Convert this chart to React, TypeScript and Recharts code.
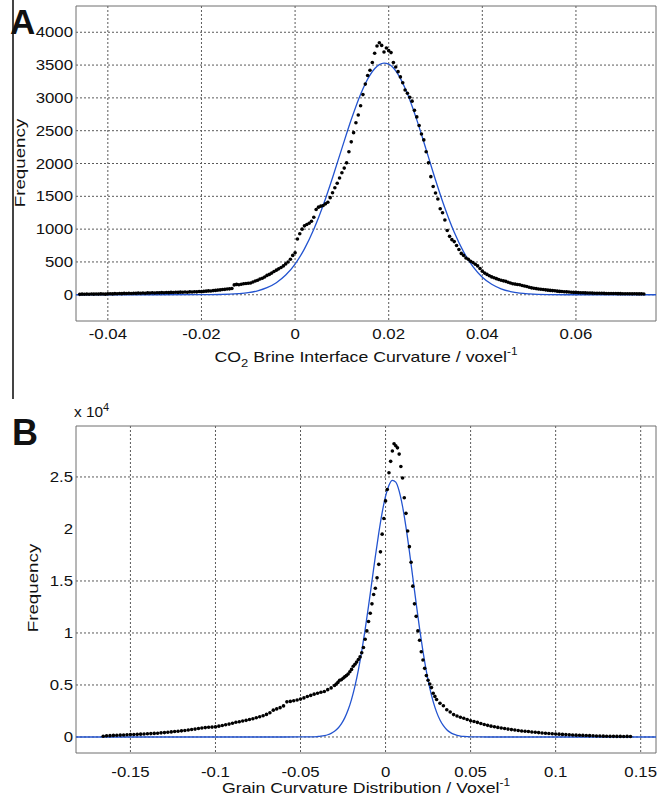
import React from "react";
import { ComposedChart, Line, Scatter, XAxis, YAxis, CartesianGrid, ReferenceArea } from "recharts";

// ---------- Panel A: CO2 brine interface curvature ----------
const aX = [
  -0.046,-0.0455,-0.045,-0.0445,-0.044,-0.0435,-0.043,-0.0425,-0.042,-0.0415,
  -0.041,-0.0405,-0.04,-0.0395,-0.039,-0.0385,-0.038,-0.0375,-0.037,-0.0365,
  -0.036,-0.0355,-0.035,-0.0345,-0.034,-0.0335,-0.033,-0.0325,-0.032,-0.0315,
  -0.031,-0.0305,-0.03,-0.0295,-0.029,-0.0285,-0.028,-0.0275,-0.027,-0.0265,
  -0.026,-0.0255,-0.025,-0.0245,-0.024,-0.0235,-0.023,-0.0225,-0.022,-0.0215,
  -0.021,-0.0205,-0.02,-0.0195,-0.019,-0.0185,-0.018,-0.0175,-0.017,-0.0165,
  -0.016,-0.0155,-0.015,-0.0145,-0.014,-0.0135,-0.013,-0.0125,-0.012,-0.0115,
  -0.011,-0.0105,-0.01,-0.0095,-0.009,-0.0085,-0.008,-0.0075,-0.007,-0.0065,
  -0.006,-0.0055,-0.005,-0.0045,-0.004,-0.0035,-0.003,-0.0025,-0.002,-0.0015,
  -0.001,-0.0005,0,0.0005,0.001,0.0015,0.002,0.0025,0.003,0.0035,
  0.004,0.0045,0.005,0.0055,0.006,0.0065,0.007,0.0075,0.008,0.0085,
  0.009,0.0095,0.01,0.0105,0.011,0.0115,0.012,0.0125,0.013,0.0135,
  0.014,0.0145,0.015,0.0155,0.016,0.0165,0.017,0.0175,0.018,0.0185,
  0.019,0.0195,0.02,0.0205,0.021,0.0215,0.022,0.0225,0.023,0.0235,
  0.024,0.0245,0.025,0.0255,0.026,0.0265,0.027,0.0275,0.028,0.0285,
  0.029,0.0295,0.03,0.0305,0.031,0.0315,0.032,0.0325,0.033,0.0335,
  0.034,0.0345,0.035,0.0355,0.036,0.0365,0.037,0.0375,0.038,0.0385,
  0.039,0.0395,0.04,0.0405,0.041,0.0415,0.042,0.0425,0.043,0.0435,
  0.044,0.0445,0.045,0.0455,0.046,0.0465,0.047,0.0475,0.048,0.0485,
  0.049,0.0495,0.05,0.0505,0.051,0.0515,0.052,0.0525,0.053,0.0535,
  0.054,0.0545,0.055,0.0555,0.056,0.0565,0.057,0.0575,0.058,0.0585,
  0.059,0.0595,0.06,0.0605,0.061,0.0615,0.062,0.0625,0.063,0.0635,
  0.064,0.0645,0.065,0.0655,0.066,0.0665,0.067,0.0675,0.068,0.0685,
  0.069,0.0695,0.07,0.0705,0.071,0.0715,0.072,0.0725,0.073,0.0735,
  0.074,0.0745,
];
const aY = [
  6,9,7,10,8,11,9,12,10,13,
  11,9,14,16,13,17,15,19,17,21,
  18,22,20,24,21,25,23,27,24,28,
  26,30,27,31,29,33,30,34,32,36,
  34,38,36,40,37,41,39,44,42,46,
  44,49,47,52,55,59,58,63,66,71,
  74,79,82,87,90,95,150,158,152,160,
  168,172,176,180,195,210,222,240,252,270,
  295,310,330,355,375,395,415,440,470,500,
  540,600,640,850,930,1000,1050,1070,1090,1120,
  1180,1300,1335,1350,1360,1385,1410,1480,1555,1630,
  1700,1780,1860,1930,2010,2180,2330,2470,2620,2740,
  2880,3050,3210,3340,3420,3540,3680,3790,3840,3800,
  3700,3760,3720,3690,3540,3470,3400,3320,3230,3120,
  3070,3010,2950,2810,2710,2580,2450,2360,2180,2010,
  1800,1650,1550,1460,1310,1250,1140,980,890,840,
  810,750,690,630,600,560,540,510,492,465,
  440,400,360,330,310,290,272,258,245,232,
  220,212,204,190,178,168,162,156,152,142,
  134,126,115,105,100,94,88,84,79,75,
  70,66,63,60,55,51,49,46,44,41,
  38,36,34,33,31,30,28,27,26,25,
  24,23,22,22,21,20,20,19,18,18,
  17,17,16,15,16,15,14,15,14,13,
  14,12,
];
const aFitX = [-0.0468,-0.03,-0.02,-0.016,-0.014,-0.012,-0.01,-0.008,-0.006,-0.004,-0.002,0,0.002,0.004,0.006,0.008,0.01,0.012,0.014,0.016,0.018,0.019,0.02,0.022,0.024,0.026,0.028,0.03,0.032,0.034,0.036,0.038,0.04,0.042,0.044,0.046,0.048,0.05,0.054,0.06,0.0771];
const aFitY = [0,0,1,4,8,17,32,60,108,184,300,468,699,998,1364,1784,2231,2670,3057,3347,3506,3530,3513,3359,3063,2665,2211,1749,1321,951,653,428,267,159,91,49,25,13,3,0,0];
const aXTicks = [-0.04,-0.02,0,0.02,0.04,0.06];
const aYTicks = [0,500,1000,1500,2000,2500,3000,3500,4000];
const aXDomain = [-0.0468, 0.0771];
const aYDomain = [-400, 4400];

// ---------- Panel B: grain curvature ----------
const bX = [
  -0.166,-0.164,-0.162,-0.16,-0.158,-0.156,-0.154,-0.152,-0.15,-0.148,
  -0.146,-0.144,-0.142,-0.14,-0.138,-0.136,-0.134,-0.132,-0.13,-0.128,
  -0.126,-0.124,-0.122,-0.12,-0.118,-0.116,-0.114,-0.112,-0.11,-0.108,
  -0.106,-0.104,-0.102,-0.1,-0.098,-0.096,-0.094,-0.092,-0.09,-0.088,
  -0.086,-0.084,-0.082,-0.08,-0.078,-0.076,-0.074,-0.072,-0.07,-0.068,
  -0.066,-0.064,-0.062,-0.06,-0.058,-0.056,-0.054,-0.052,-0.05,-0.048,
  -0.046,-0.044,-0.042,-0.04,-0.038,-0.036,-0.034,-0.032,
  -0.03,-0.029,-0.028,-0.027,-0.026,-0.025,-0.024,-0.023,-0.022,-0.021,
  -0.02,-0.019,-0.018,-0.017,-0.016,-0.015,-0.014,-0.013,-0.012,-0.011,
  -0.01,-0.009,-0.008,-0.007,-0.006,-0.005,-0.004,-0.003,-0.002,-0.001,
  0,0.001,0.002,0.003,0.004,0.005,0.006,0.007,0.008,0.009,
  0.01,0.011,0.012,0.013,0.014,0.015,0.016,0.017,0.018,0.019,
  0.02,0.021,0.022,0.023,0.024,0.025,0.026,0.027,0.028,0.029,0.03,
  0.032,0.034,0.036,0.038,0.04,0.042,0.044,0.046,0.048,0.05,
  0.052,0.054,0.056,0.058,0.06,0.062,0.064,0.066,0.068,0.07,
  0.072,0.074,0.076,0.078,0.08,0.082,0.084,0.086,0.088,0.09,
  0.092,0.094,0.096,0.098,0.1,0.102,0.104,0.106,0.108,0.11,
  0.112,0.114,0.116,0.118,0.12,0.122,0.124,0.126,0.128,0.13,
  0.132,0.134,0.136,0.138,0.14,0.142,0.144,
];
const bY = [
  70,110,130,150,165,180,195,215,230,245,
  255,270,290,305,325,345,365,395,420,460,
  490,520,550,590,630,670,720,760,810,860,
  900,930,950,970,1040,1110,1180,1240,1320,1410,
  1470,1530,1600,1680,1760,1850,1940,2040,2170,2330,
  2580,2700,2820,2990,3380,3420,3480,3560,3640,3760,
  3890,4000,4120,4210,4300,4380,4550,4720,
  4950,5100,5250,5450,5500,5650,5780,5900,6050,6270,
  6500,6800,7000,7200,7450,7700,8100,8600,9400,10200,
  11100,11900,12800,13700,14300,15300,16600,17800,19500,21000,
  22700,23800,25400,26500,27500,28200,28000,27800,27200,26000,
  24900,23000,21500,19800,18300,16800,14500,12800,11600,10200,
  9300,8200,7400,6600,5900,5450,5100,4750,4200,3900,3600,
  3250,3000,2620,2400,2150,2020,1900,1800,1680,1560,
  1490,1400,1300,1200,1120,1040,980,920,860,810,
  760,710,670,620,580,550,520,480,450,420,
  390,360,330,310,290,270,250,230,210,190,
  175,160,150,140,130,115,100,90,80,70,
  60,60,55,55,50,55,50,
];
const bFitX = [-0.182,-0.06,-0.05,-0.045,-0.04,-0.038,-0.036,-0.034,-0.032,-0.03,-0.028,-0.026,-0.024,-0.022,-0.02,-0.018,-0.016,-0.014,-0.012,-0.01,-0.008,-0.006,-0.004,-0.002,0,0.002,0.004,0.006,0.008,0.01,0.012,0.014,0.016,0.018,0.02,0.022,0.024,0.026,0.028,0.03,0.032,0.034,0.036,0.038,0.04,0.042,0.044,0.046,0.048,0.05,0.055,0.065,0.159];
const bFitY = [0,0,2,10,44,76,130,215,348,548,840,1258,1835,2612,3619,4888,6437,8261,10337,12604,14981,17357,19602,21576,23150,24210,24680,24500,23640,22160,20180,17860,15360,12840,10420,8225,6305,4700,3399,2390,1634,1085,702,440,268,158,91,51,28,15,2,0,0];
const bXTicks = [-0.15,-0.1,-0.05,0,0.05,0.1,0.15];
const bYTicks = [0,5000,10000,15000,20000,25000];
const bGridY = [0,5000,10000,15000,25000];
const bXDomain = [-0.182, 0.159];
const bYDomain = [-1540, 29900];

const zip = (xs: number[], ys: number[]) => xs.map((x, i) => ({ x, y: ys[i] }));
const aDots = zip(aX, aY);
const aFit = zip(aFitX, aFitY);
const bDots = zip(bX, bY);
const bFit = zip(bFitX, bFitY);

const FONT = "'Liberation Sans', Arial, sans-serif";
const BLUE = "#2354d0";
const GRID = "#5a5a5a";
const STRETCH = 1.2;
const dot = (p: any) => <circle cx={p.cx} cy={p.cy} r={1.8} fill="#000" />;

const makeXTick = (dy: number) => (p: any) => (
  <g transform={`translate(${p.x},${p.y})`}>
    <text transform={`scale(${STRETCH},1)`} textAnchor="middle" y={dy} fontSize={14} fontFamily={FONT} fill="#111">
      {String(p.payload.value)}
    </text>
  </g>
);
const makeYTick = (fmt: (v: number) => string) => (p: any) => (
  <g transform={`translate(${p.x},${p.y})`}>
    <text transform={`scale(${STRETCH},1)`} textAnchor="end" y={5} fontSize={14} fontFamily={FONT} fill="#111">
      {fmt(p.payload.value)}
    </text>
  </g>
);

function Panel(props: {
  dots: any[]; fit: any[]; xDomain: number[]; yDomain: number[]; xTicks: number[]; yTicks: number[];
  gridY: number[]; height: number; top: number; xh: number; tickDy: number; yFmt: (v: number) => string;
}) {
  const { dots, fit, xDomain, yDomain, xTicks, yTicks, gridY, height, top, xh, tickDy, yFmt } = props;
  return (
    <ComposedChart width={667} height={height} margin={{ top, right: 11, left: 0, bottom: 0 }}>
      <CartesianGrid stroke={GRID} strokeDasharray="2 2" horizontalValues={gridY} verticalValues={xTicks} />
      <ReferenceArea x1={xDomain[0]} x2={xDomain[1]} y1={yDomain[0]} y2={yDomain[1]} fill="none" stroke="#6f6f6f" strokeWidth={1} />
      <XAxis type="number" dataKey="x" domain={xDomain} allowDataOverflow ticks={xTicks} interval={0}
        tickLine={false} axisLine={false} tickSize={0} tickMargin={0} height={xh} tick={makeXTick(tickDy)} />
      <YAxis type="number" dataKey="y" domain={yDomain} allowDataOverflow ticks={yTicks} interval={0}
        tickLine={false} axisLine={false} tickSize={0} tickMargin={3} width={76} tick={makeYTick(yFmt)} />
      <Scatter data={dots} shape={dot} isAnimationActive={false} />
      <Line data={fit} dataKey="y" type="monotone" stroke={BLUE} strokeWidth={1.3} dot={false} isAnimationActive={false} />
    </ComposedChart>
  );
}

const abs = (s: React.CSSProperties): React.CSSProperties => ({ position: "absolute", fontFamily: FONT, color: "#111", whiteSpace: "nowrap", ...s });
const sup: React.CSSProperties = { fontSize: 10, position: "relative", top: -7 };

export default function App() {
  return (
    <div style={{ position: "absolute", left: 0, top: 0, width: 667, height: 798, background: "#fff", overflow: "hidden" }}>
      <div style={abs({ left: 0, top: 0 })}>
        <Panel dots={aDots} fit={aFit} xDomain={aXDomain} yDomain={aYDomain} xTicks={aXTicks} yTicks={aYTicks}
          gridY={aYTicks} height={370} top={6} xh={49} tickDy={18} yFmt={(v) => String(v)} />
      </div>
      <div style={abs({ left: 0, top: 400 })}>
        <Panel dots={bDots} fit={bFit} xDomain={bXDomain} yDomain={bYDomain} xTicks={bXTicks} yTicks={bYTicks}
          gridY={bGridY} height={398} top={26} xh={45} tickDy={24} yFmt={(v) => String(v / 10000)} />
      </div>
      <div style={abs({ left: 12, top: 0, width: 2, height: 399, background: "#444" })} />
      <div style={abs({ left: 10, top: 4, fontSize: 35, fontWeight: "bold", lineHeight: 1 })}>A</div>
      <div style={abs({ left: 12, top: 415, fontSize: 36, fontWeight: "bold", lineHeight: 1 })}>B</div>
      <div style={abs({ left: 74, top: 404, fontSize: 14, lineHeight: "16px", transform: "scaleX(1.1)", transformOrigin: "left center" })}>
        x 10<span style={{ fontSize: 10, position: "relative", top: -6 }}>4</span>
      </div>
      <div style={abs({ left: 76, width: 580, top: 347, fontSize: 15, lineHeight: "20px", textAlign: "center", transform: "scaleX(1.18)" })}>
        CO<span style={{ fontSize: 11, position: "relative", top: 5 }}>2</span> Brine Interface Curvature / voxel<span style={sup}>-1</span>
      </div>
      <div style={abs({ left: 76, width: 580, top: 778, fontSize: 15, lineHeight: "20px", textAlign: "center", transform: "scaleX(1.18)" })}>
        Grain Curvature Distribution / Voxel<span style={sup}>-1</span>
      </div>
      <div style={abs({ left: -80, top: 153, width: 200, height: 20, fontSize: 15, lineHeight: "20px", textAlign: "center", transform: "rotate(-90deg) scaleX(1.25)" })}>
        Frequency
      </div>
      <div style={abs({ left: -67, top: 578, width: 200, height: 20, fontSize: 15, lineHeight: "20px", textAlign: "center", transform: "rotate(-90deg) scaleX(1.25)" })}>
        Frequency
      </div>
    </div>
  );
}
